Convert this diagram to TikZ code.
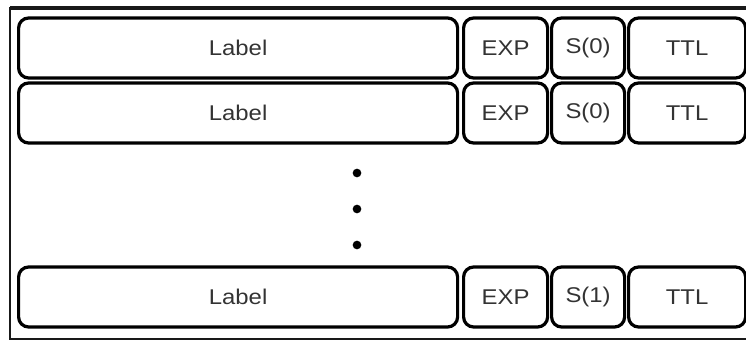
\documentclass[tikz,border=0pt]{standalone}
\usepackage{fontspec}
\setmainfont{Liberation Sans}
% field captions are set slightly wide
\newcommand{\widecap}[1]{\scalebox{1.12}[1]{#1}}
\begin{document}
\begin{tikzpicture}[x=0.75pt,y=-0.75pt,
  field/.style={draw=black, line width=2.4pt, rounded corners=7.5pt,
    inner sep=0pt, minimum height=45pt, text=black!80,
    font=\fontsize{16}{18}\selectfont, anchor=west},
  frameline/.style={draw=black!90, line width=1.6pt},
  dotmark/.style={fill=black, circle, inner sep=0pt, minimum size=6.5pt}]
  \useasboundingbox (0,0) rectangle (746,342);
  \fill[white] (0,0) rectangle (746,342);
  % surrounding frame (open on the right)
  \draw[frameline, line width=2.4pt] (747,8) -- (10,8);
  \draw[frameline] (10,7) -- (10,339) -- (747,339);
  % one row of fields per entry
  \foreach \r/\y/\s in {1/48/S(0), 2/113/S(0), 3/297/S(1)} {
    \node[field, minimum width=329.25pt] (lab\r) at (17,\y) {\widecap{Label}};
    \node[field, minimum width=63pt]     (exp\r) at (462,\y) {\widecap{EXP}};
    \node[field, minimum width=54.75pt]  (st\r)  at (550,\y) {\raisebox{2pt}{\widecap{\s}}};
    \node[field, minimum width=87.75pt]  (ttl\r) at (627,\y) {\widecap{TTL}};
  }
  % ellipsis between the rows
  \node[dotmark] (d1) at (357,173) {};
  \node[dotmark] (d2) at (357,209) {};
  \node[dotmark] (d3) at (357,245) {};
\end{tikzpicture}
\end{document}
